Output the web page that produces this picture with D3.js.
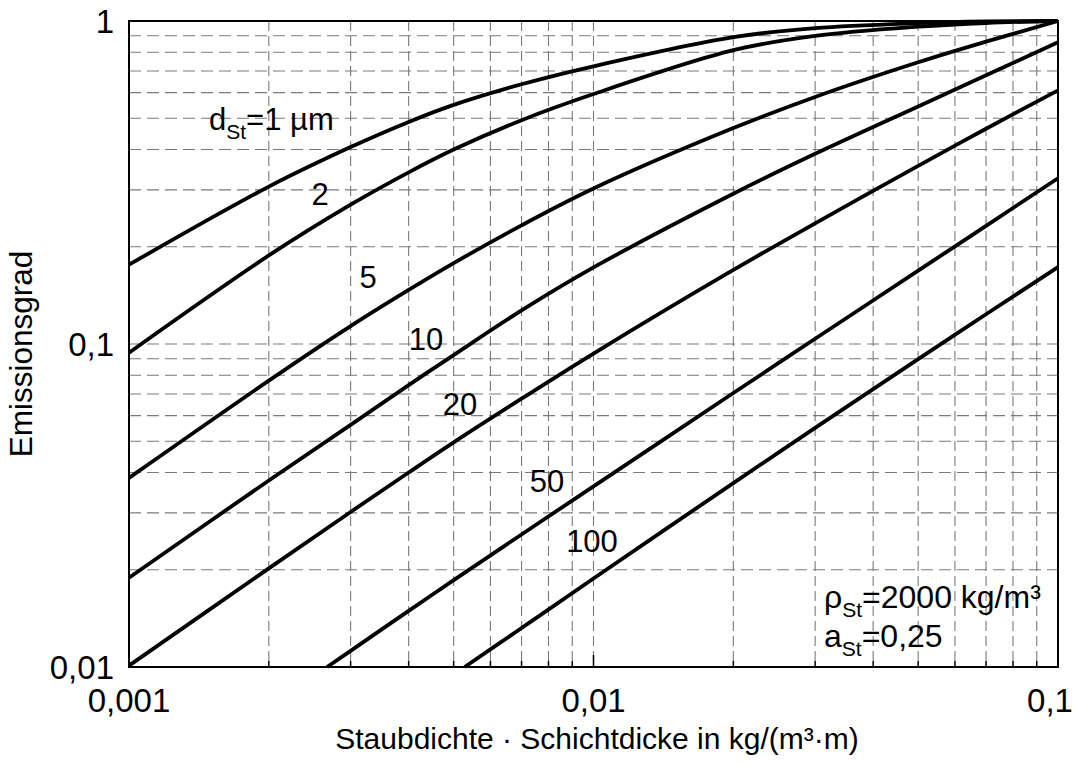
<!DOCTYPE html>
<html>
<head>
<meta charset="utf-8">
<script src="https://cdn.jsdelivr.net/npm/d3@7"></script>
<style>
  html, body { margin: 0; padding: 0; background: #fff; }
  svg { display: block; font-family: "Liberation Sans", Arial, Helvetica, sans-serif; }
</style>
</head>
<body>
<svg id="chart" width="1074" height="763"></svg>
<script>
// ---- data ----
const xGrid = [0.001, 0.002, 0.003, 0.004, 0.005, 0.007, 0.01, 0.02, 0.03, 0.05, 0.07, 0.1];
const eps_d1  = [0.176, 0.307, 0.407, 0.487, 0.55, 0.637, 0.724, 0.891, 0.951, 0.985, 0.997, 1.0];
const eps_d2  = [0.094, 0.188, 0.270, 0.340, 0.400, 0.493, 0.594, 0.812, 0.899, 0.960, 0.986, 1.0];
const eps_d5  = [0.0385, 0.077, 0.1136, 0.147, 0.178, 0.233, 0.303, 0.466, 0.582, 0.745, 0.863, 1.0];
const eps_d10 = [0.0189, 0.0378, 0.0562, 0.0746, 0.0924, 0.127, 0.1726, 0.292, 0.388, 0.544, 0.679, 0.86];
const eps_d20 = [0.0101, 0.0202, 0.0302, 0.04, 0.0496, 0.0677, 0.0934, 0.1695, 0.2364, 0.356, 0.464, 0.61];
const x_d50   = [0.00267, 0.003, 0.004, 0.005, 0.007, 0.01, 0.02, 0.03, 0.05, 0.07, 0.1];
const eps_d50 = [0.01, 0.01122, 0.01492, 0.01857, 0.02572, 0.03624, 0.0705, 0.1038, 0.1687, 0.2322, 0.326];
const x_d100   = [0.00528, 0.007, 0.01, 0.02, 0.03, 0.05, 0.07, 0.1];
const eps_d100 = [0.01, 0.0132, 0.0188, 0.0371, 0.055, 0.0898, 0.1236, 0.173];

const curveNames = ["1", "2", "5", "10", "20", "50", "100"];
const xTickValues = [0.001, 0.01, 0.1];
const xTickLabels = ["0,001", "0,01", "0,1"];
const yTickValues = [0.01, 0.1, 1];
const yTickLabels = ["0,01", "0,1", "1"];
const xTitle = "Staubdichte · Schichtdicke in kg/(m³·m)";
const yTitle = "Emissionsgrad";

const series = [
  { name: curveNames[0], xs: xGrid, ys: eps_d1 },
  { name: curveNames[1], xs: xGrid, ys: eps_d2 },
  { name: curveNames[2], xs: xGrid, ys: eps_d5 },
  { name: curveNames[3], xs: xGrid, ys: eps_d10 },
  { name: curveNames[4], xs: xGrid, ys: eps_d20 },
  { name: curveNames[5], xs: x_d50, ys: eps_d50 },
  { name: curveNames[6], xs: x_d100, ys: eps_d100 }
];

// ---- layout ----
const L = 129, R = 1058, T = 21, B = 667;
const svg = d3.select("#chart");
const x = d3.scaleLog().domain([0.001, 0.1]).range([L, R]);
const y = d3.scaleLog().domain([0.01, 1]).range([B, T]);

// minor/major grid values
const xGridVals = [];
[0.001, 0.01].forEach(dec => { for (let k = 2; k <= 9; k++) xGridVals.push(dec * k); });
xGridVals.push(0.01);
const yGridVals = [];
[0.01, 0.1].forEach(dec => { for (let k = 2; k <= 9; k++) yGridVals.push(dec * k); });
yGridVals.push(0.1);

const grid = svg.append("g").attr("stroke", "#7a7a7a").attr("stroke-width", 1.1).attr("fill", "none");
grid.selectAll("line.h").data(yGridVals).join("line")
  .attr("x1", L).attr("x2", R)
  .attr("y1", d => y(d)).attr("y2", d => y(d))
  .attr("stroke-dasharray", "12,6");
grid.selectAll("line.v").data(xGridVals).join("line")
  .attr("y1", T).attr("y2", B)
  .attr("x1", d => x(d)).attr("x2", d => x(d))
  .attr("stroke-dasharray", "10,5");

// inner ticks on bottom axis
const ticksG = svg.append("g").attr("stroke", "#000").attr("stroke-width", 1.5);
ticksG.selectAll("line").data(xGridVals).join("line")
  .attr("x1", d => x(d)).attr("x2", d => x(d))
  .attr("y1", B).attr("y2", d => (Math.abs(d - 0.01) < 1e-9 ? B - 12 : B - 6));

// frame
svg.append("rect").attr("x", L).attr("y", T).attr("width", R - L).attr("height", B - T)
  .attr("fill", "none").attr("stroke", "#000").attr("stroke-width", 2);

// axes tick labels
svg.append("g").selectAll("text").data(xTickValues).join("text")
  .attr("x", (d, i) => i === xTickValues.length - 1 ? x(d) - 8 : x(d))
  .attr("y", 712)
  .attr("text-anchor", "middle")
  .attr("font-size", 33)
  .text((d, i) => xTickLabels[i]);

svg.append("g").selectAll("text").data(yTickValues).join("text")
  .attr("x", 114)
  .attr("y", d => y(d) + 12)
  .attr("text-anchor", "end")
  .attr("font-size", 33)
  .text((d, i) => yTickLabels[i]);

// axis titles
svg.append("text").attr("x", 597).attr("y", 749).attr("text-anchor", "middle")
  .attr("font-size", 30).text(xTitle);
svg.append("text").attr("transform", "translate(32,354) rotate(-90)").attr("text-anchor", "middle")
  .attr("font-size", 31.5).text(yTitle);

// curves
const line = d3.line().x(d => x(d[0])).y(d => y(d[1])).curve(d3.curveCatmullRom.alpha(0.5));
svg.append("g").selectAll("path").data(series).join("path")
  .attr("d", s => line(s.xs.map((v, i) => [v, s.ys[i]])))
  .attr("fill", "none").attr("stroke", "#000").attr("stroke-width", 3.8)
  .attr("stroke-linejoin", "round");

// curve labels
const labelPos = [
  null,
  { x: 320, y: 205 },
  { x: 368, y: 288 },
  { x: 426, y: 350 },
  { x: 460, y: 415 },
  { x: 547, y: 492 },
  { x: 592, y: 552 }
];
svg.append("g").selectAll("text").data(series.slice(1)).join("text")
  .attr("x", (s, i) => labelPos[i + 1].x)
  .attr("y", (s, i) => labelPos[i + 1].y)
  .attr("text-anchor", "middle")
  .attr("font-size", 31)
  .text(s => s.name);

// d_St = 1 µm label
const t1 = svg.append("text").attr("x", 209).attr("y", 130).attr("font-size", 31);
t1.append("tspan").text("d");
t1.append("tspan").attr("font-size", 21).attr("dy", 9).text("St");
t1.append("tspan").attr("dy", -9).text("=" + curveNames[0] + " µm");

// parameters
const t2 = svg.append("text").attr("x", 824).attr("y", 608).attr("font-size", 32);
t2.append("tspan").text("ρ");
t2.append("tspan").attr("font-size", 21).attr("dy", 9).text("St");
t2.append("tspan").attr("dy", -9).text("=2000 kg/m³");
const t3 = svg.append("text").attr("x", 824).attr("y", 647).attr("font-size", 32);
t3.append("tspan").text("a");
t3.append("tspan").attr("font-size", 21).attr("dy", 9).text("St");
t3.append("tspan").attr("dy", -9).text("=0,25");
</script>
</body>
</html>
